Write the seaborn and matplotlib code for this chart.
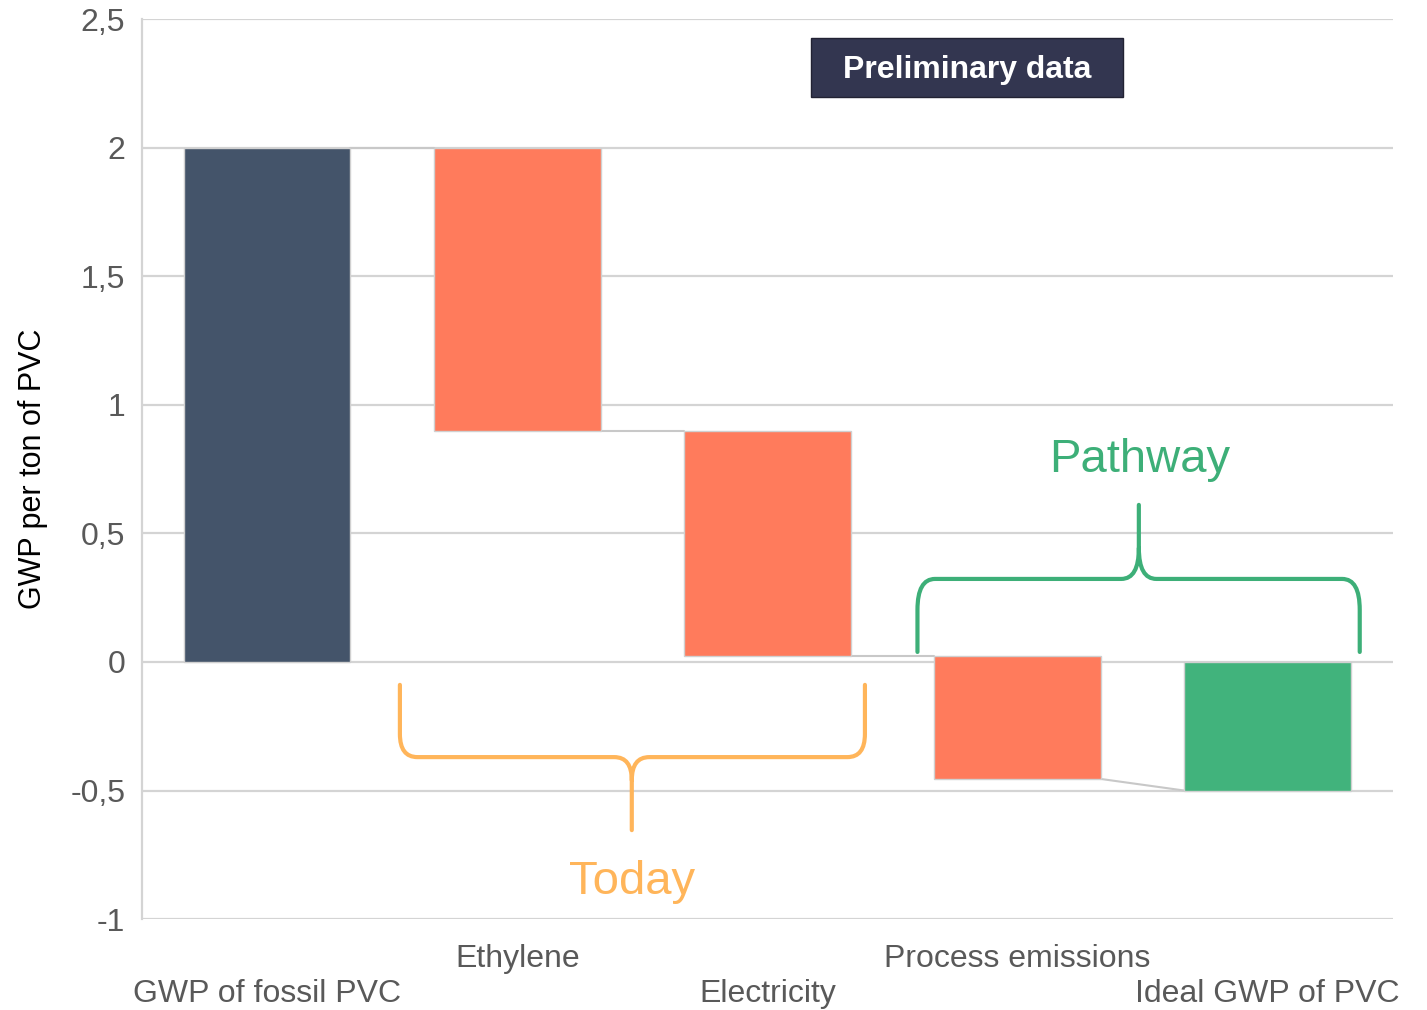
import seaborn as sns
import numpy as np
import matplotlib.pyplot as plt
from matplotlib.path import Path
from matplotlib.patches import PathPatch, Rectangle

# waterfall data (GWP per ton of PVC)
categories = ['GWP of fossil PVC', 'Ethylene', 'Electricity', 'Process emissions', 'Ideal GWP of PVC']
bar_start = [0.0, 2.0, 0.90, 0.023, 0.0]
bar_end = [2.0, 0.90, 0.023, -0.455, -0.5]
is_total = [True, False, False, False, True]
bar_colors = ['#44546A', '#FF7B5C', '#FF7B5C', '#FF7B5C', '#41B37C']
ytick_vals = [-1, -0.5, 0, 0.5, 1, 1.5, 2, 2.5]
ytick_text = ['-1', '-0,5', '0', '0,5', '1', '1,5', '2', '2,5']

sns.set_theme(style='white')
plt.rcParams['font.family'] = ['Liberation Sans', 'DejaVu Sans']

fig = plt.figure(figsize=(14.27, 10.1), dpi=100)
ax = fig.add_axes([0.0995, 0.090, 0.8765, 0.891])

heights = np.array(bar_end) - np.array(bar_start)
sns.barplot(x=categories, y=heights, order=categories, bottom=bar_start,
            color='#FF7B5C', saturation=1, width=0.667,
            edgecolor='#d0d0d0', linewidth=1, ax=ax, zorder=3)
for patch, c in zip(ax.patches, bar_colors):
    patch.set_facecolor(c)

# connector lines between bars
w = 0.667
for i in range(len(categories) - 1):
    y_to = bar_end[i + 1] if is_total[i + 1] else bar_start[i + 1]
    ax.plot([i + w / 2, i + 1 - w / 2], [bar_end[i], y_to], color='#c8c8c8', lw=1.5, zorder=2)

ax.set_xlim(-0.5, 4.5)
ax.set_ylim(-1, 2.5)
ax.set_yticks(ytick_vals)
ax.set_yticklabels(ytick_text)
ax.yaxis.grid(True, color='#d4d4d4', lw=1.6)
ax.set_axisbelow(True)
for s in ['top', 'right', 'bottom']:
    ax.spines[s].set_visible(False)
ax.spines['left'].set_color('#d4d4d4')
ax.spines['left'].set_linewidth(1.6)

labels = [('\n' + c) if i % 2 == 0 else c for i, c in enumerate(categories)]
ax.set_xticks(range(len(categories)))
ax.set_xticklabels(labels, linespacing=1.22)
ax.tick_params(axis='x', length=0, pad=18, labelsize=23, labelcolor='#595959')
ax.tick_params(axis='y', length=0, pad=12, labelsize=23, labelcolor='#595959')
ax.set_xlabel('')
ax.set_ylabel('GWP per ton of PVC', fontsize=22, color='black', labelpad=16)


def brace(x0, x1, xm, y_end, y_bar, y_tip, rx, ry, color):
    s = np.sign(y_bar - y_end)
    verts = [(x0, y_end), (x0, y_bar - s * ry), (x0, y_bar), (x0 + rx, y_bar),
             (xm - rx, y_bar), (xm, y_bar), (xm, y_bar + s * ry), (xm, y_tip),
             (xm, y_bar + s * ry), (xm, y_bar), (xm + rx, y_bar),
             (x1 - rx, y_bar), (x1, y_bar), (x1, y_bar - s * ry), (x1, y_end)]
    codes = [Path.MOVETO, Path.LINETO, Path.CURVE3, Path.CURVE3,
             Path.LINETO, Path.CURVE3, Path.CURVE3, Path.LINETO,
             Path.MOVETO, Path.CURVE3, Path.CURVE3,
             Path.LINETO, Path.CURVE3, Path.CURVE3, Path.LINETO]
    ax.add_patch(PathPatch(Path(verts, codes), facecolor='none', edgecolor=color,
                           lw=3, capstyle='round', zorder=4))


brace(0.531, 2.39, 1.458, -0.089, -0.37, -0.654, 0.07, 0.09, '#FFB55A')
brace(2.60, 4.368, 3.485, 0.039, 0.323, 0.611, 0.07, 0.12, '#3DAF78')
ax.text(1.458, -0.855, 'Today', fontsize=34, color='#FFB55A', ha='center', va='center')
ax.text(3.49, 0.785, 'Pathway', fontsize=34, color='#3DAF78', ha='center', va='center')

ax.add_patch(Rectangle((2.174, 2.198), 1.247, 0.23, facecolor='#333650',
                       edgecolor='#222233', lw=1, zorder=4))
ax.text(2.797, 2.303, 'Preliminary data', fontsize=23, fontweight='bold',
        color='white', ha='center', va='center', zorder=5)

fig.savefig('out.png', dpi=100)
